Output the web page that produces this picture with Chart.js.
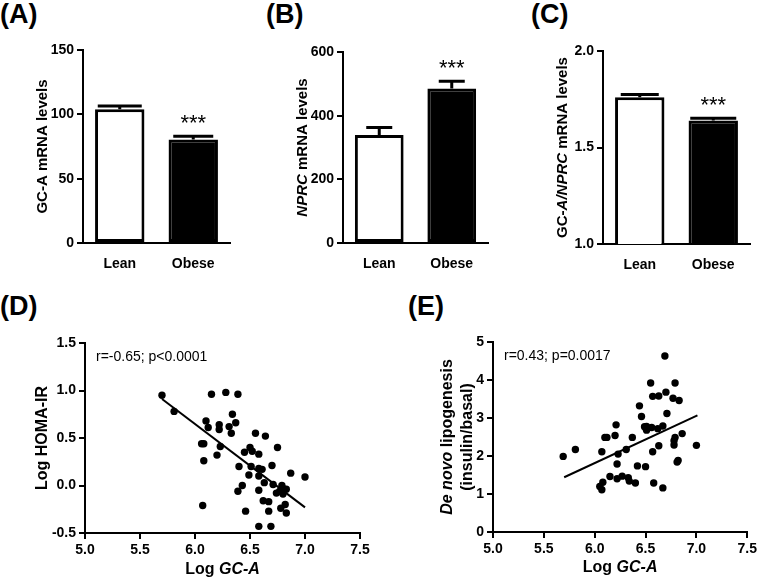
<!DOCTYPE html>
<html>
<head>
<meta charset="utf-8">
<script src="https://cdn.jsdelivr.net/npm/chart.js@4/dist/chart.umd.min.js"></script>
<style>
  html, body { margin: 0; padding: 0; background: #fff; overflow: hidden; }
  body { width: 760px; height: 580px; position: relative; font-family: Arial, "Liberation Sans", sans-serif; }
  .panel { position: absolute; }
  .tag { position: absolute; font-weight: bold; font-size: 27px; line-height: 1; color: #000; }
</style>
</head>
<body>
<div class="tag" style="left:0;top:1px">(A)</div>
<div class="tag" style="left:266px;top:1px">(B)</div>
<div class="tag" style="left:531px;top:1px">(C)</div>
<div class="tag" style="left:0;top:293px">(D)</div>
<div class="tag" style="left:408px;top:293px">(E)</div>

<div class="panel" style="left:0;top:0;width:250px;height:280px"><canvas id="chartA"></canvas></div>
<div class="panel" style="left:260px;top:0;width:250px;height:280px"><canvas id="chartB"></canvas></div>
<div class="panel" style="left:520px;top:0;width:240px;height:280px"><canvas id="chartC"></canvas></div>
<div class="panel" style="left:0;top:290px;width:380px;height:290px"><canvas id="chartD"></canvas></div>
<div class="panel" style="left:380px;top:290px;width:380px;height:290px"><canvas id="chartE"></canvas></div>

<script>
// ========== DONNÉES ==========
const groups = ["Lean", "Obese"];

const gcaMean = [104, 80.5];
const gcaSem = [2.5, 2.5];
const nprcMean = [339, 485];
const nprcSem = [24, 23];
const ratioMean = [1.76, 1.64];
const ratioSem = [0.015, 0.012];

// (D) log GC-A vs log HOMA-IR
const homaX = [5.70, 5.81, 6.15, 6.28, 6.39, 6.10, 6.12, 6.22, 6.22, 6.34, 6.31, 6.37, 6.33, 6.06, 6.08,
  6.23, 6.20, 6.08, 6.55, 6.64, 6.50, 6.52, 6.45, 6.58, 6.75, 6.40, 6.51, 6.58, 6.61, 6.70,
  6.49, 6.58, 6.87, 7.00, 6.43, 6.63, 6.71, 6.79, 6.39, 6.58, 6.74, 6.77, 6.80, 6.83, 6.80,
  6.07, 6.62, 6.67, 6.82, 6.78, 6.46, 6.67, 6.83, 6.58, 6.69];
const homaY = [0.95, 0.78, 0.96, 0.98, 0.96, 0.68, 0.61, 0.64, 0.59, 0.75, 0.62, 0.66, 0.55, 0.44, 0.44,
  0.41, 0.32, 0.26, 0.55, 0.52, 0.40, 0.36, 0.35, 0.33, 0.40, 0.20, 0.20, 0.18, 0.17, 0.21,
  0.11, 0.10, 0.13, 0.09, 0.00, 0.03, 0.01, 0.00, -0.06, -0.05, -0.08, -0.06, -0.03, -0.04, -0.09,
  -0.21, -0.16, -0.17, -0.20, -0.24, -0.27, -0.27, -0.29, -0.43, -0.43];
const homaFitX = [5.70, 7.00];
const homaFitY = [0.91, -0.23];

// (E) log GC-A vs lipogenèse de novo
const dnlX = [5.69, 5.81, 6.69, 6.55, 6.79, 6.57, 6.63, 6.70, 6.77, 6.83, 6.44, 6.46, 6.71, 6.49, 6.51,
  6.51, 6.56, 6.62, 6.67, 6.79, 6.86, 6.78, 6.78, 7.00, 6.63, 6.57, 6.82, 6.81, 6.10, 6.12,
  6.20, 6.21, 6.37, 6.07, 6.23, 6.31, 6.22, 6.42, 6.50, 6.15, 6.22, 6.27, 6.33, 6.34, 6.40,
  6.58, 6.67, 6.08, 6.05, 6.07];
const dnlY = [1.99, 2.17, 4.63, 3.92, 3.92, 3.57, 3.58, 3.68, 3.52, 3.46, 3.32, 3.04, 3.12, 2.77, 2.68,
  2.78, 2.75, 2.72, 2.79, 2.49, 2.59, 2.40, 2.29, 2.28, 2.27, 2.11, 1.88, 1.84, 2.49, 2.49,
  2.54, 2.82, 2.49, 2.11, 2.05, 2.17, 1.79, 1.74, 1.72, 1.46, 1.40, 1.47, 1.43, 1.34, 1.29,
  1.29, 1.16, 1.31, 1.20, 1.11];
const dnlFitX = [5.70, 7.01];
const dnlFitY = [1.44, 3.07];

// ========== STYLE ==========
Chart.defaults.font.family = 'Arial, "Liberation Sans", sans-serif';
Chart.defaults.color = "#000";
Chart.defaults.animation = false;

const tickFont = { weight: "bold", size: 14 };
const border = { display: true, color: "#000", width: 2 };

function yAxis(min, max, step, dec, width) {
  return {
    type: "linear", min, max,
    ticks: { stepSize: step, font: tickFont, padding: 3, color: "#000", callback: (v) => v.toFixed(dec) },
    grid: { display: true, drawOnChartArea: false, drawTicks: true, tickLength: 6, color: "#000", lineWidth: 2 },
    border,
    afterFit: (s) => { s.width = width; },
  };
}

function xLinear(min, max, step) {
  return {
    type: "linear", min, max,
    ticks: { stepSize: step, font: tickFont, padding: 3, color: "#000", callback: (v) => v.toFixed(1) },
    grid: { display: true, drawOnChartArea: false, drawTicks: true, tickLength: 6, color: "#000", lineWidth: 2 },
    border,
    afterFit: (s) => { s.height = 30; },
  };
}

function xCategory() {
  return {
    type: "category",
    ticks: { font: tickFont, padding: 5, color: "#000" },
    grid: { display: false },
    border,
    afterFit: (s) => { s.height = 30; },
  };
}

// texte mixte (romain / italique), centré sur x
function drawParts(ctx, parts, x, y, size) {
  const fonts = parts.map((p) => `${p[1] ? "italic " : ""}bold ${size}px Arial, "Liberation Sans", sans-serif`);
  let total = 0;
  const widths = parts.map((p, i) => {
    ctx.font = fonts[i];
    const w = ctx.measureText(p[0]).width;
    total += w;
    return w;
  });
  let cx = x - total / 2;
  parts.forEach((p, i) => {
    ctx.font = fonts[i];
    ctx.fillText(p[0], cx, y);
    cx += widths[i];
  });
}

const decor = {
  id: "decor",
  afterDraw(chart, args, o) {
    const { ctx, chartArea: a } = chart;
    ctx.save();
    ctx.fillStyle = "#000";
    ctx.strokeStyle = "#000";
    ctx.textBaseline = "middle";
    ctx.textAlign = "left";

    // barres d'erreur + étoiles
    if (o.errors) {
      const meta = chart.getDatasetMeta(0);
      const ys = chart.scales.y;
      const vals = chart.data.datasets[0].data;
      ctx.lineWidth = 3;
      meta.data.forEach((bar, i) => {
        const top = ys.getPixelForValue(vals[i] + o.errors[i]);
        ctx.beginPath();
        ctx.moveTo(bar.x, bar.y);
        ctx.lineTo(bar.x, top);
        ctx.moveTo(bar.x - o.cap[i] / 2, top);
        ctx.lineTo(bar.x + o.cap[i] / 2, top);
        ctx.stroke();
        if (o.stars && o.stars[i]) {
          ctx.font = '22px Arial, "Liberation Sans", sans-serif';
          ctx.textAlign = "center";
          ctx.fillText(o.stars[i], bar.x, top - 12);
          ctx.textAlign = "left";
        }
      });
    }

    // titres d'axe Y (rotation)
    if (o.yTitle) {
      const cy = (a.top + a.bottom) / 2;
      o.yTitle.lines.forEach((parts, i) => {
        ctx.save();
        ctx.translate(a.left - o.yTitle.gaps[i], cy);
        ctx.rotate(-Math.PI / 2);
        drawParts(ctx, parts, 0, 0, o.yTitle.size);
        ctx.restore();
      });
    }

    if (o.xTitle) {
      drawParts(ctx, o.xTitle.parts, (a.left + a.right) / 2, a.bottom + o.xTitle.gap, o.xTitle.size);
    }

    if (o.note) {
      ctx.font = '14px Arial, "Liberation Sans", sans-serif';
      ctx.fillText(o.note, a.left + 11, a.top + 14);
    }
    ctx.restore();
  },
};

// ========== GRAPHIQUES EN BARRES ==========
function barChart(id, means, sems, yCfg, pad, title, cap) {
  new Chart(document.getElementById(id), {
    type: "bar",
    data: {
      labels: groups,
      datasets: [{
        data: means,
        backgroundColor: ["#fff", "#000"],
        borderColor: "#000",
        borderWidth: 3,
        borderSkipped: false,
        barPercentage: 0.8,
        categoryPercentage: 0.84,
      }],
    },
    options: {
      responsive: true,
      maintainAspectRatio: false,
      layout: { padding: pad },
      plugins: {
        legend: { display: false },
        tooltip: { enabled: false },
        decor: { errors: sems, cap, stars: ["", "***"], yTitle: { lines: [title], gaps: [40], size: 15 } },
      },
      scales: { x: xCategory(), y: yCfg },
    },
    plugins: [decor],
  });
}

barChart("chartA", gcaMean, gcaSem, yAxis(0, 150, 50, 0, 83),
  { left: 0, top: 50, right: 20, bottom: 7 }, [["GC-A mRNA levels", false]], [44, 40]);
barChart("chartB", nprcMean, nprcSem, yAxis(0, 600, 200, 0, 83),
  { left: 0, top: 52, right: 22, bottom: 7 }, [["NPRC", true], [" mRNA levels", false]], [26, 26]);
barChart("chartC", ratioMean, ratioSem, yAxis(1, 2, 0.5, 1, 83),
  { left: 0, top: 51, right: 10, bottom: 6 }, [["GC-", false], ["A/NPRC", true], [" mRNA levels", false]], [38, 46]);

// ========== NUAGES DE POINTS ==========
function scatterChart(id, xs, ys, fitX, fitY, yCfg, pad, decorOpts) {
  new Chart(document.getElementById(id), {
    type: "scatter",
    data: {
      datasets: [
        {
          data: xs.map((x, i) => ({ x, y: ys[i] })),
          backgroundColor: "#000",
          borderColor: "#000",
          pointRadius: 3.7,
          pointBorderWidth: 0,
        },
        {
          type: "line",
          data: fitX.map((x, i) => ({ x, y: fitY[i] })),
          borderColor: "#000",
          borderWidth: 2,
          pointRadius: 0,
          fill: false,
        },
      ],
    },
    options: {
      responsive: true,
      maintainAspectRatio: false,
      layout: { padding: pad },
      plugins: { legend: { display: false }, tooltip: { enabled: false }, decor: decorOpts },
      scales: { x: xLinear(5, 7.5, 0.5), y: yCfg },
    },
    plugins: [decor],
  });
}

const logGcaTitle = [["Log ", false], ["GC-A", true]];

scatterChart("chartD", homaX, homaY, homaFitX, homaFitY, yAxis(-0.5, 1.5, 0.5, 1, 85),
  { left: 0, top: 53, right: 20, bottom: 17 },
  {
    note: "r=-0.65; p<0.0001",
    yTitle: { lines: [[["Log HOMA-IR", false]]], gaps: [42], size: 16 },
    xTitle: { parts: logGcaTitle, gap: 37, size: 16 },
  });

scatterChart("chartE", dnlX, dnlY, dnlFitX, dnlFitY, yAxis(0, 5, 1, 0, 113),
  { left: 0, top: 52, right: 11, bottom: 18 },
  {
    note: "r=0.43; p=0.0017",
    yTitle: {
      lines: [[["De novo", true], [" lipogenesis", false]], [["(insulin/basal)", false]]],
      gaps: [45, 25], size: 16,
    },
    xTitle: { parts: logGcaTitle, gap: 36, size: 16 },
  });
</script>
</body>
</html>
